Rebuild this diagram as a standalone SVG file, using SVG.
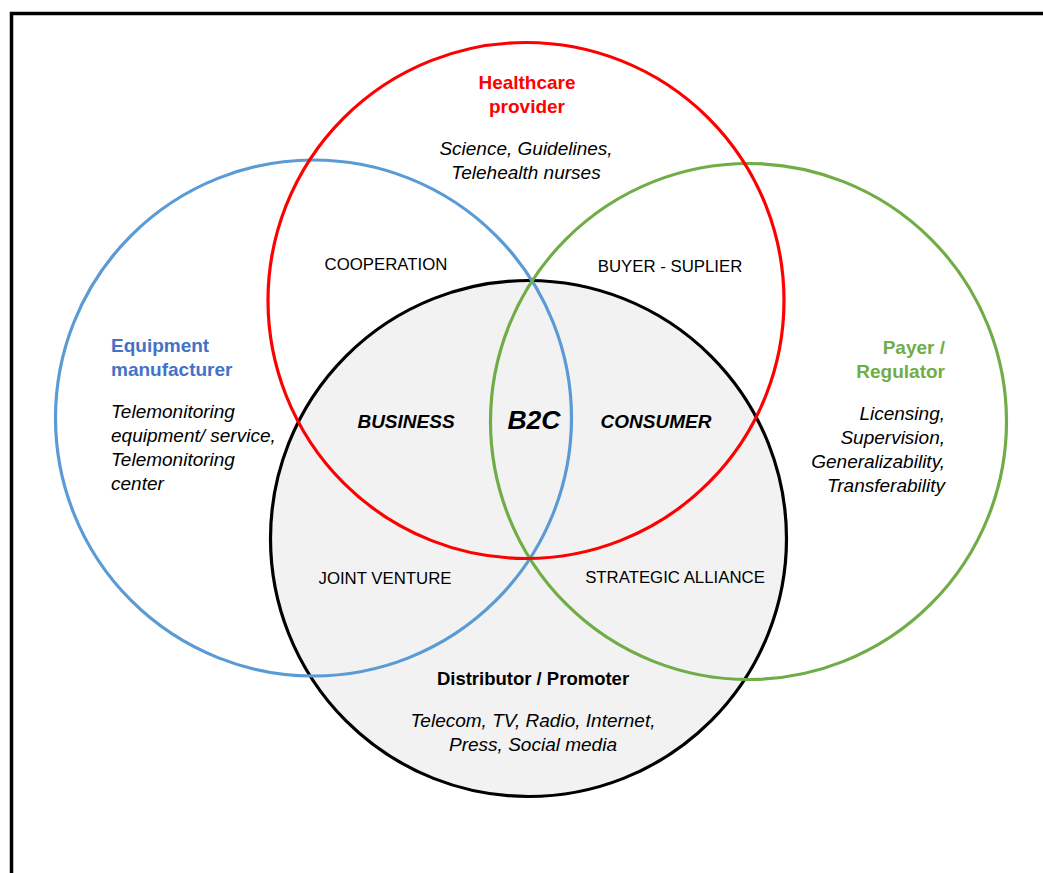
<svg xmlns="http://www.w3.org/2000/svg" width="1043" height="873" viewBox="0 0 1043 873">
<style>
.c{fill:none;stroke-width:3.2}
.t{font-family:"Liberation Sans",Arial,sans-serif;font-size:16.8px;fill:#000}
.i{font-style:italic;font-size:19px}
.b{font-weight:bold;font-size:19px}
.bi{font-weight:bold;font-style:italic;font-size:19px}
.m{text-anchor:middle}
.e{text-anchor:end}
</style>
<rect x="0" y="0" width="1043" height="873" fill="#fff"/>
<path d="M11.5,873 V13.5 H1043" fill="none" stroke="#000" stroke-width="3.5"/>
<g id="distributor">
<circle cx="528.5" cy="538.5" r="258" fill="#f2f2f2" stroke="#000" stroke-width="3.2"/>
</g>
<g id="equipment">
<circle class="c" cx="313.5" cy="418" r="258" stroke="#5b9bd5"/>
</g>
<g id="payer">
<circle class="c" cx="748.5" cy="421.5" r="258" stroke="#70ad47"/>
</g>
<g id="healthcare">
<circle class="c" cx="526" cy="300.5" r="258" stroke="#ff0000"/>
</g>
<g id="labels">
<text class="t b m" x="527" y="89" style="fill:#ff0000">Healthcare</text>
<text class="t b m" x="527" y="113" style="fill:#ff0000">provider</text>
<text class="t i m" x="526" y="155">Science, Guidelines,</text>
<text class="t i m" x="526" y="179">Telehealth nurses</text>
<text class="t m" x="386" y="270">COOPERATION</text>
<text class="t m" x="670" y="272">BUYER - SUPLIER</text>
<text class="t b" x="111" y="352" style="fill:#4472c4">Equipment</text>
<text class="t b" x="111" y="376" style="fill:#4472c4">manufacturer</text>
<text class="t i" x="111" y="418">Telemonitoring</text>
<text class="t i" x="111" y="442">equipment/ service,</text>
<text class="t i" x="111" y="466">Telemonitoring</text>
<text class="t i" x="111" y="490">center</text>
<text class="t b e" x="945" y="354" style="fill:#70ad47">Payer /</text>
<text class="t b e" x="945" y="378" style="fill:#70ad47">Regulator</text>
<text class="t i e" x="945" y="420">Licensing,</text>
<text class="t i e" x="945" y="444">Supervision,</text>
<text class="t i e" x="945" y="468">Generalizability,</text>
<text class="t i e" x="945" y="492">Transferability</text>
<text class="t bi m" x="406" y="428">BUSINESS</text>
<text class="t bi m" x="534" y="429" style="font-size:26.5px">B2C</text>
<text class="t bi m" x="656" y="428">CONSUMER</text>
<text class="t m" x="385" y="584">JOINT VENTURE</text>
<text class="t m" x="675" y="583">STRATEGIC ALLIANCE</text>
<text class="t b m" x="533" y="685" style="font-size:18.5px">Distributor / Promoter</text>
<text class="t i m" x="533" y="727">Telecom, TV, Radio, Internet,</text>
<text class="t i m" x="533" y="751">Press, Social media</text>
</g>
</svg>
